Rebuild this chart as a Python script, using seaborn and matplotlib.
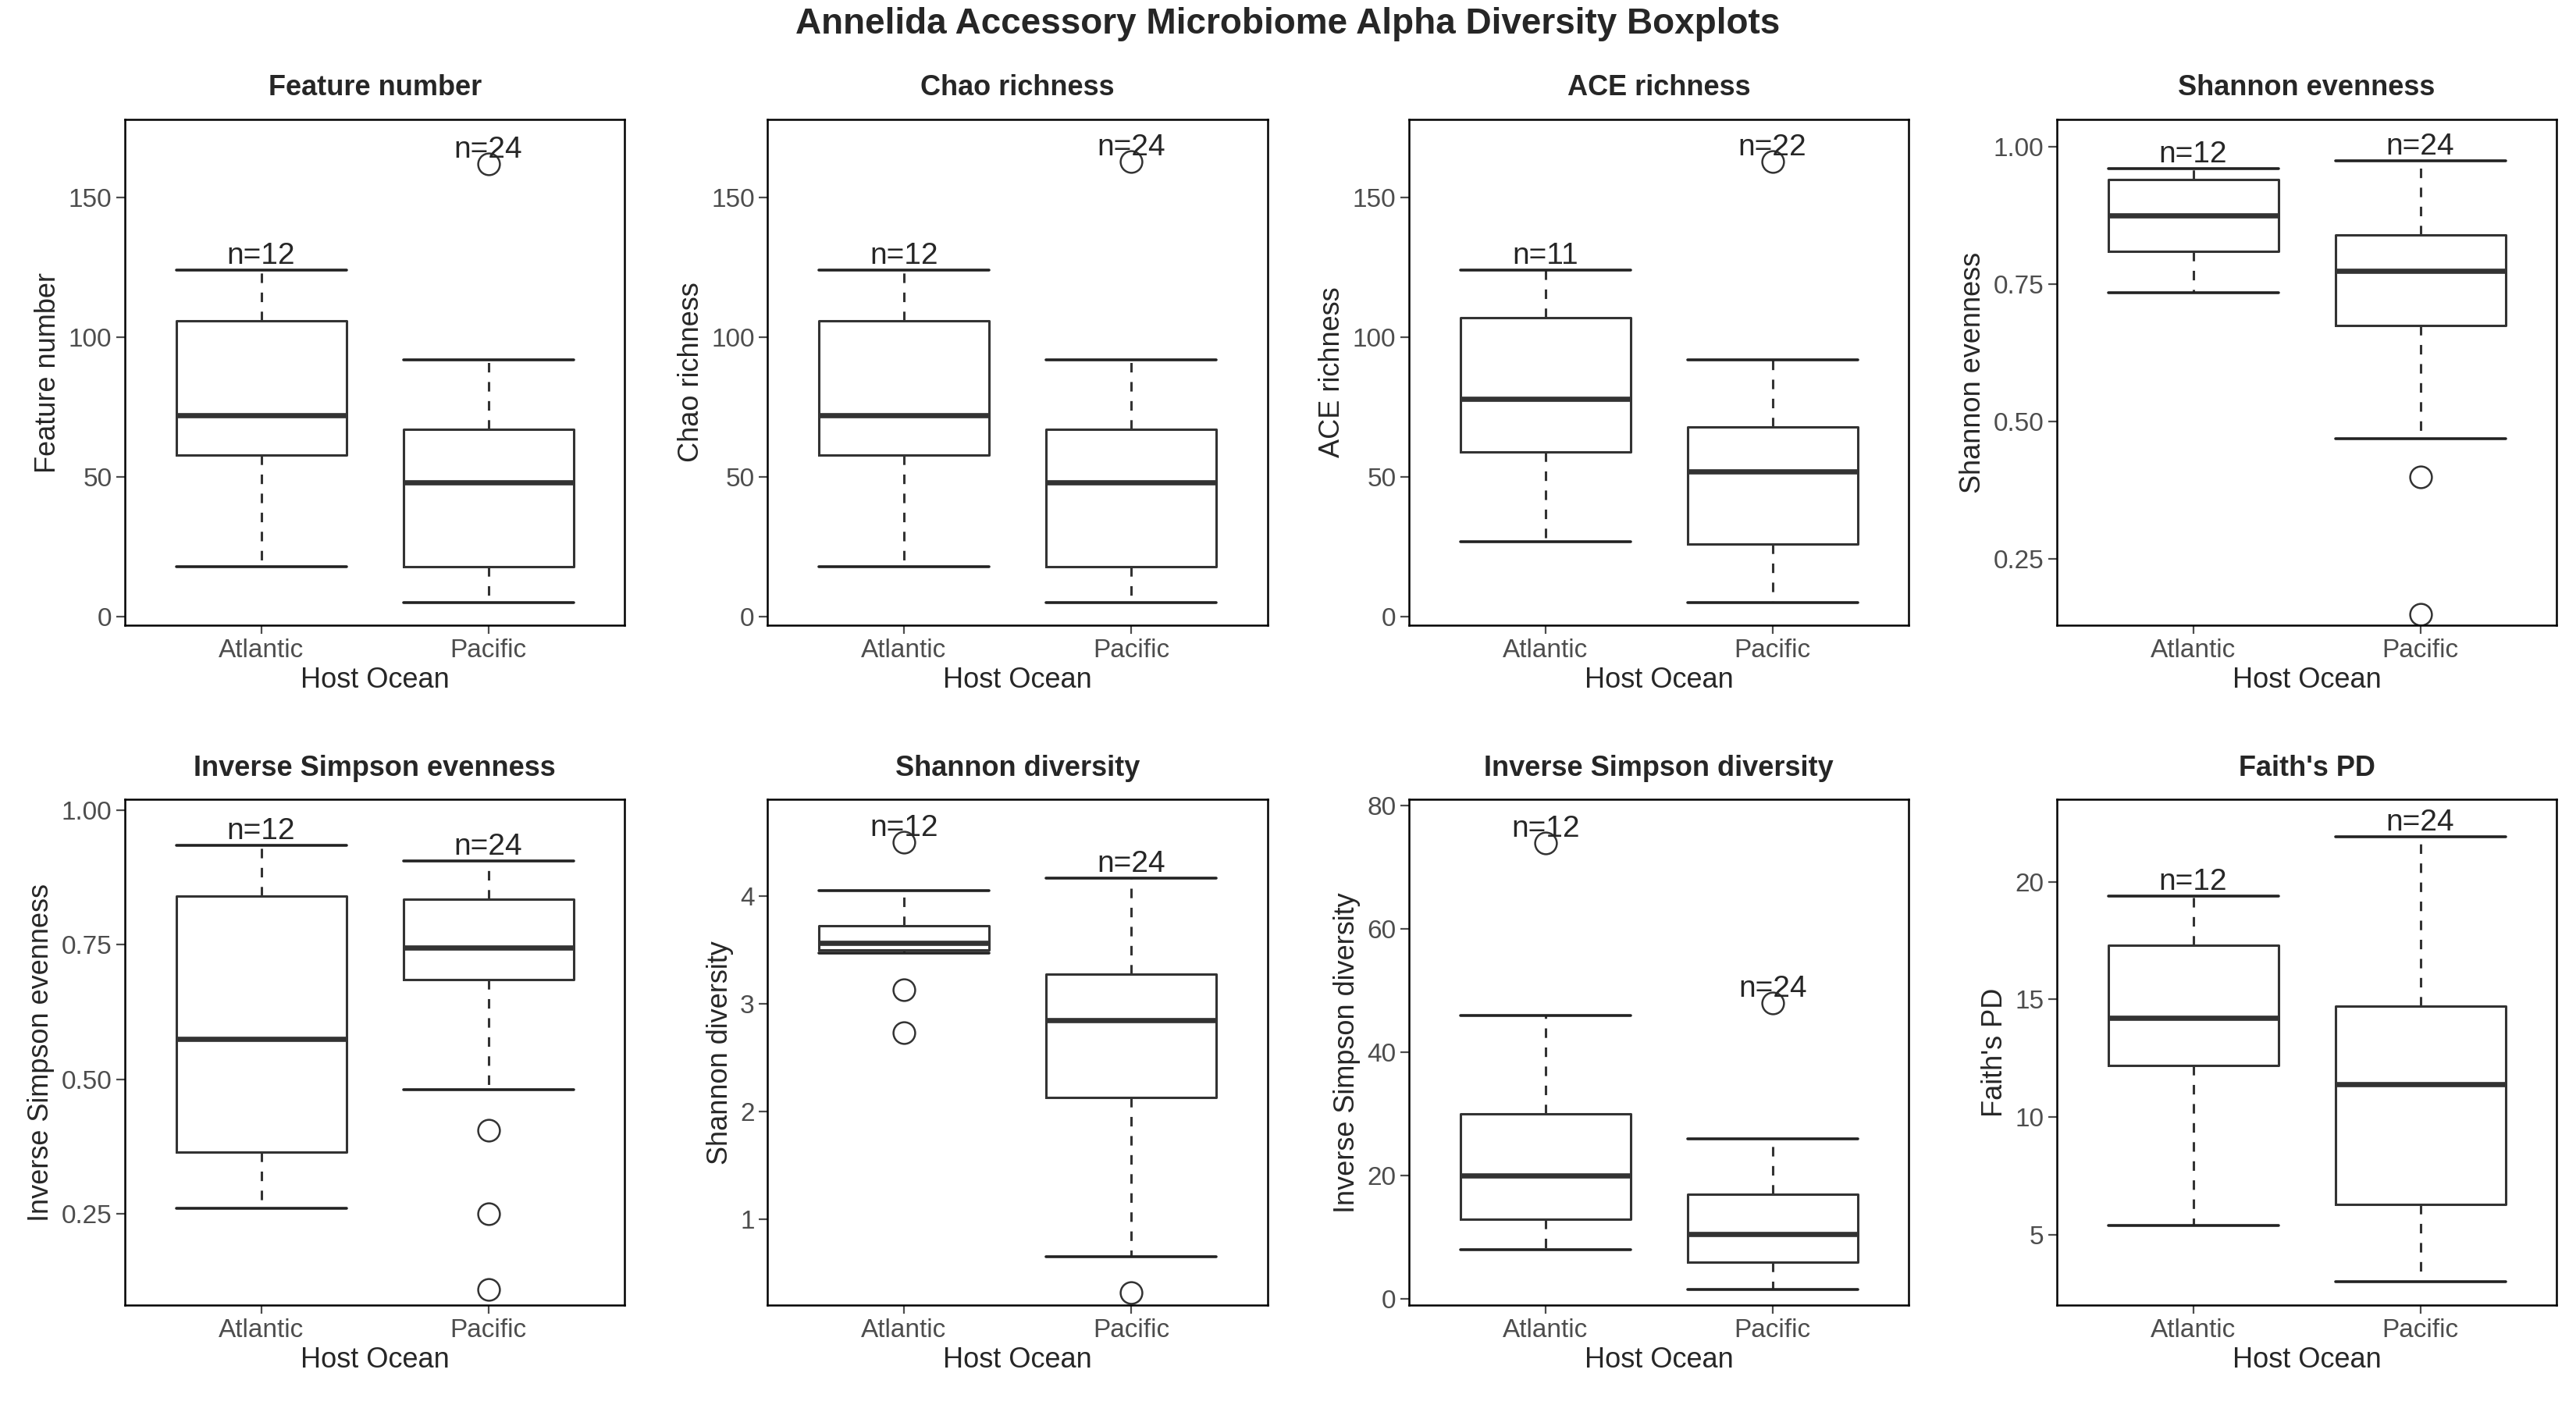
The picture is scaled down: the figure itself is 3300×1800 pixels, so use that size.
import matplotlib
matplotlib.use("Agg")
import matplotlib.pyplot as plt
import seaborn as sns

sns.set_style("white")
plt.rcParams['font.family'] = ['Liberation Sans', 'DejaVu Sans']

groups = ["Atlantic", "Pacific"]
titles = ["Feature number", "Chao richness", "ACE richness", "Shannon evenness",
          "Inverse Simpson evenness", "Shannon diversity", "Inverse Simpson diversity", "Faith's PD"]
# per panel: [Atlantic, Pacific] each (whislo, q1, med, q3, whishi)
stats = [
    [(18, 58, 72, 106, 124), (5, 18, 48, 67, 92)],
    [(18, 58, 72, 106, 124), (5, 18, 48, 67, 92)],
    [(27, 59, 78, 107, 124), (5, 26, 52, 68, 92)],
    [(0.735, 0.81, 0.875, 0.94, 0.96), (0.47, 0.675, 0.775, 0.84, 0.975)],
    [(0.26, 0.365, 0.575, 0.84, 0.935), (0.48, 0.685, 0.745, 0.835, 0.905)],
    [(3.47, 3.5, 3.57, 3.73, 4.05), (0.65, 2.13, 2.85, 3.28, 4.17)],
    [(8, 13, 20, 30, 46), (1.5, 6, 10.5, 17, 26)],
    [(5.4, 12.2, 14.2, 17.3, 19.4), (3, 6.3, 11.4, 14.7, 21.9)],
]
fliers = [
    [[], [162]], [[], [163]], [[], [163]], [[], [0.40, 0.15]],
    [[], [0.405, 0.25, 0.11]], [[4.5, 3.13, 2.73], [0.32]], [[74], [48]], [[], []],
]
counts = [[12, 24], [12, 24], [11, 22], [12, 24], [12, 24], [12, 24], [12, 24], [12, 24]]
ylims = [(-3, 178), (-3, 178), (-3, 178), (0.13, 1.05), (0.08, 1.02), (0.2, 4.9), (-1, 81), (2, 23.5)]
yticks = [[0, 50, 100, 150]] * 3 + [[0.25, 0.5, 0.75, 1.0]] * 2 + [[1, 2, 3, 4], [0, 20, 40, 60, 80], [5, 10, 15, 20]]
yfmt = ["{:.0f}"] * 3 + ["{:.2f}"] * 2 + ["{:.0f}"] * 3

fig = plt.figure(figsize=(16.5, 9), dpi=200)
fig.suptitle("Annelida Accessory Microbiome Alpha Diversity Boxplots", fontsize=16.5, fontweight="bold", y=0.995)
lefts = [0.0485, 0.298, 0.547, 0.7985]
bottoms = [0.555, 0.071]
for i in range(8):
    ax = fig.add_axes([lefts[i % 4], bottoms[i // 4], 0.194, 0.36])
    bx = []
    for j in range(2):
        lo, q1, med, q3, hi = stats[i][j]
        bx.append(dict(whislo=lo, q1=q1, med=med, q3=q3, whishi=hi, fliers=fliers[i][j], label=groups[j]))
    ax.bxp(bx, positions=[1, 2], widths=0.75, capwidths=0.75,
           boxprops=dict(color="#333333", lw=1.1),
           whiskerprops=dict(color="#333333", lw=1.1, linestyle=(0, (4, 4))),
           capprops=dict(color="#222222", lw=1.3),
           medianprops=dict(color="#333333", lw=2.4),
           flierprops=dict(marker="o", markerfacecolor="white", markeredgecolor="#333333", markersize=10, markeredgewidth=0.9))
    for j in range(2):
        top = max([stats[i][j][4]] + fliers[i][j])
        ax.text(j + 1, top, f"n={counts[i][j]}", ha="center", va="bottom", fontsize=14)
    ax.set_xlim(0.4, 2.6)
    ax.set_ylim(*ylims[i])
    ax.set_yticks(yticks[i])
    ax.set_yticklabels([yfmt[i].format(v) for v in yticks[i]])
    ax.set_xticks([1, 2])
    ax.set_xticklabels(groups)
    ax.tick_params(axis="both", labelsize=12, colors="#4d4d4d", length=4, width=0.8, left=True, bottom=True, pad=2)
    ax.set_title(titles[i], fontsize=13, fontweight="bold", pad=11)
    ax.set_xlabel("Host Ocean", fontsize=13, labelpad=2)
    ax.set_ylabel(titles[i], fontsize=13, labelpad=3)
    for s in ax.spines.values():
        s.set_visible(True)
        s.set_color("black")
        s.set_linewidth(0.9)

fig.savefig("out.png", dpi=200)
